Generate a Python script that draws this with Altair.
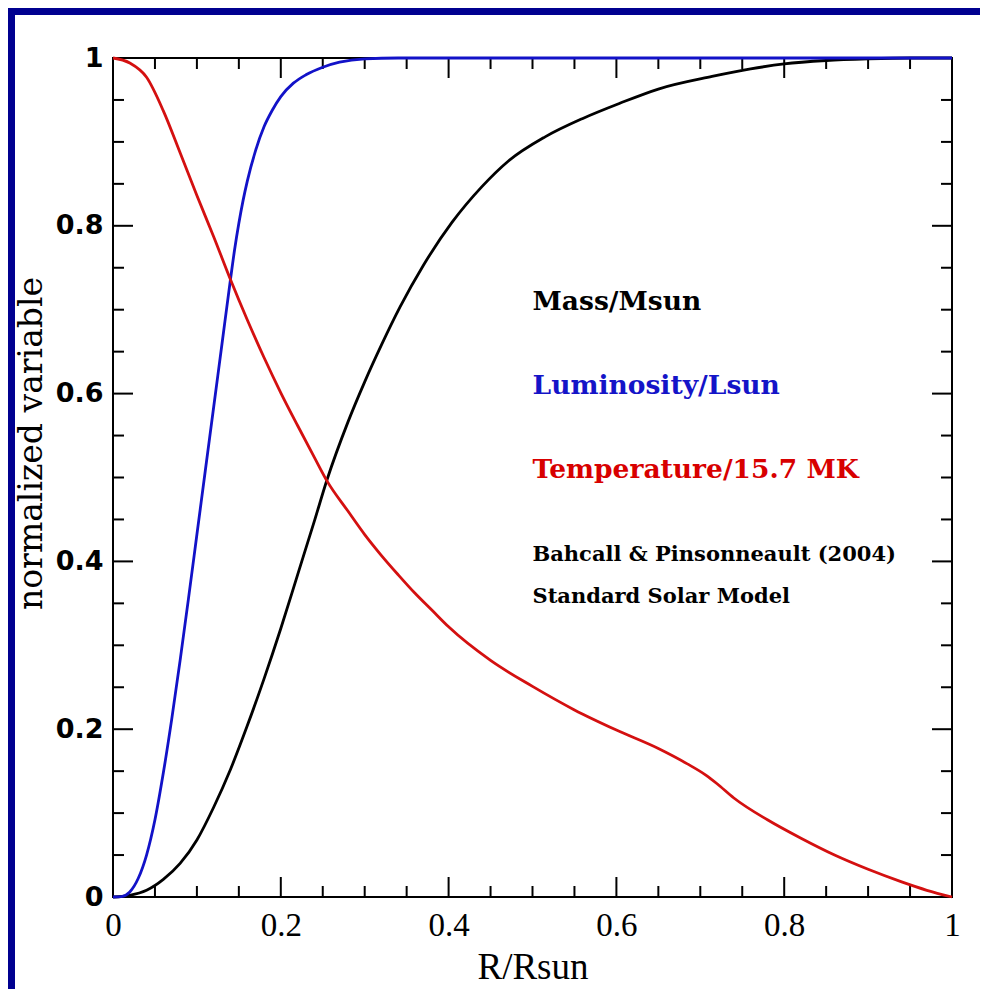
import altair as alt
import pandas as pd

# ---- data ----
temp_r = [0.0, 0.02, 0.04, 0.06, 0.08, 0.10, 0.12, 0.14, 0.16, 0.18, 0.20, 0.22, 0.24, 0.255,
          0.28, 0.30, 0.32, 0.34, 0.36, 0.38, 0.40, 0.45, 0.50, 0.55, 0.60, 0.65, 0.684, 0.707,
          0.72, 0.74, 0.78, 0.82, 0.86, 0.90, 0.94, 0.97, 1.0]
temp_v = [1.0, 0.994, 0.977, 0.937, 0.887, 0.836, 0.787, 0.736, 0.688, 0.643, 0.601, 0.562,
          0.524, 0.496, 0.460, 0.432, 0.407, 0.384, 0.362, 0.342, 0.322, 0.282, 0.251, 0.223,
          0.199, 0.177, 0.159, 0.145, 0.135, 0.118, 0.092, 0.070, 0.050, 0.033, 0.018, 0.008, 0.0]

lum_r = [0.0, 0.01, 0.02, 0.03, 0.04, 0.05, 0.06, 0.07, 0.08, 0.09, 0.10, 0.11, 0.12, 0.13,
         0.14, 0.145, 0.15, 0.155, 0.16, 0.17, 0.18, 0.19, 0.20, 0.215, 0.23, 0.25, 0.27, 0.30,
         0.34, 0.50, 0.75, 1.0]
lum_v = [0.0, 0.0005, 0.006, 0.022, 0.050, 0.092, 0.148, 0.212, 0.282, 0.356, 0.432, 0.508,
         0.584, 0.660, 0.736, 0.772, 0.803, 0.830, 0.853, 0.890, 0.918, 0.938, 0.954, 0.970,
         0.980, 0.989, 0.995, 0.999, 1.0, 1.0, 1.0, 1.0]

mass_r = [0.0, 0.02, 0.04, 0.06, 0.08, 0.10, 0.12, 0.14, 0.16, 0.18, 0.20, 0.22, 0.24, 0.255,
          0.28, 0.30, 0.32, 0.342, 0.37, 0.404, 0.44, 0.471, 0.515, 0.56, 0.604, 0.65, 0.714,
          0.76, 0.80, 0.85, 0.90, 0.95, 1.0]
mass_v = [0.0, 0.002, 0.008, 0.021, 0.040, 0.068, 0.107, 0.152, 0.204, 0.260, 0.320, 0.384,
          0.448, 0.497, 0.566, 0.614, 0.658, 0.703, 0.753, 0.804, 0.847, 0.877, 0.906, 0.928,
          0.946, 0.963, 0.978, 0.987, 0.993, 0.997, 0.999, 1.0, 1.0]

major_ticks = [0.2, 0.4, 0.6, 0.8]
minor_ticks = [0.05, 0.1, 0.15, 0.25, 0.3, 0.35, 0.45, 0.5, 0.55, 0.65, 0.7, 0.75, 0.85, 0.9, 0.95]
label_ticks = [0, 0.2, 0.4, 0.6, 0.8, 1]

ann_text = ["Mass/Msun", "Luminosity/Lsun", "Temperature/15.7 MK",
            "Bahcall & Pinsonneault (2004)", "Standard Solar Model"]
ann_r = [0.5, 0.5, 0.5, 0.5, 0.5]
ann_v = [0.7, 0.6, 0.5, 0.4, 0.35]
ann_group = ["big", "big", "big", "small", "small"]
ann_color = ["#000000", "#1414c8", "#d80000", "#000000", "#000000"]

W, H = 839, 839
PADL, PADT, PADR, PADB = 105, 50, 28, 92
MAJ, MIN = 20, 11
BLUE_BG = "#000090"

xs = alt.Scale(domain=[0, 1], nice=False, zero=False)
ys = alt.Scale(domain=[0, 1], nice=False, zero=False)

XAXIS = alt.Axis(values=label_ticks, format="~g", ticks=False, domain=False, grid=False,
                 labelFont="Liberation Serif", labelFontSize=33, labelColor="black",
                 labelPadding=12, labelFlush=False,
                 titleFont="Liberation Serif", titleFontSize=37, titleFontWeight="normal",
                 titleColor="black", titlePadding=7, zindex=1)
YAXIS = alt.Axis(values=label_ticks, format="~g", ticks=False, domain=False, grid=False,
                 labelFont="DejaVu Sans", labelFontWeight="bold", labelFontSize=27,
                 labelColor="black", labelPadding=10, labelFlush=False,
                 titleFont="DejaVu Serif", titleFontSize=33, titleFontWeight="normal",
                 titleColor="black", titleAngle=-90, titleAlign="center",
                 titleBaseline="alphabetic", titleX=-72, titleY=385, zindex=1)


def X(field):
    return alt.X(field, scale=xs, title="R/Rsun", axis=XAXIS)


def Y(field):
    return alt.Y(field, scale=ys, title="normalized variable", axis=YAXIS)


one = alt.Data(values=[{"k": 1}])

# blue strips (left and top border)
strip_left = alt.Chart(one).mark_rect(color=BLUE_BG).encode(
    x=alt.value(-PADL), x2=alt.value(-PADL + 7), y=alt.value(-PADT), y2=alt.value(H + PADB))
strip_top = alt.Chart(one).mark_rect(color=BLUE_BG).encode(
    x=alt.value(-PADL), x2=alt.value(W + PADR), y=alt.value(-PADT), y2=alt.value(-PADT + 7))

maj_df = pd.DataFrame({"t": major_ticks})
min_df = pd.DataFrame({"t": minor_ticks})


def tick_layers(df, L):
    base = alt.Chart(df).mark_rule(color="black", strokeWidth=2)
    return [
        base.encode(x=X("t:Q"), y=alt.value(H), y2=alt.value(H - L)),
        base.encode(x=X("t:Q"), y=alt.value(0), y2=alt.value(L)),
        base.encode(y=Y("t:Q"), x=alt.value(0), x2=alt.value(L)),
        base.encode(y=Y("t:Q"), x=alt.value(W), x2=alt.value(W - L)),
    ]


frame = alt.Chart(one).mark_rect(filled=False, stroke="black", strokeWidth=2).encode(
    x=alt.value(0), x2=alt.value(W), y=alt.value(0), y2=alt.value(H))


def curve(rs, vs, color):
    df = pd.DataFrame({"r": rs, "v": vs})
    return alt.Chart(df).mark_line(color=color, strokeWidth=2.8, interpolate="monotone").encode(
        x=X("r:Q"), y=Y("v:Q"))


mass_line = curve(mass_r, mass_v, "#000000")
lum_line = curve(lum_r, lum_v, "#1212c8")
temp_line = curve(temp_r, temp_v, "#d41010")

ann_df = pd.DataFrame({"text": ann_text, "r": ann_r, "v": ann_v, "g": ann_group, "c": ann_color})
ann_big = alt.Chart(ann_df).transform_filter(alt.datum.g == "big").mark_text(
    align="left", baseline="alphabetic", font="DejaVu Serif", fontSize=26.5, fontWeight="bold"
).encode(x=X("r:Q"), y=Y("v:Q"), text="text:N", color=alt.Color("c:N", scale=None))
ann_small = alt.Chart(ann_df).transform_filter(alt.datum.g == "small").mark_text(
    align="left", baseline="alphabetic", font="DejaVu Serif", fontSize=21, fontWeight="bold"
).encode(x=X("r:Q"), y=Y("v:Q"), text="text:N", color=alt.Color("c:N", scale=None))

layers = [strip_left, strip_top, frame] + tick_layers(maj_df, MAJ) + tick_layers(min_df, MIN) + [
    mass_line, lum_line, temp_line, ann_big, ann_small]

chart = alt.layer(*layers).properties(
    width=W, height=H,
    autosize=alt.AutoSizeParams(type="none"),
    padding={"left": PADL, "top": PADT, "right": PADR, "bottom": PADB},
    background="white",
).configure_view(stroke=None)

chart.save("out.html", embed_options={"renderer": "svg", "actions": False})
